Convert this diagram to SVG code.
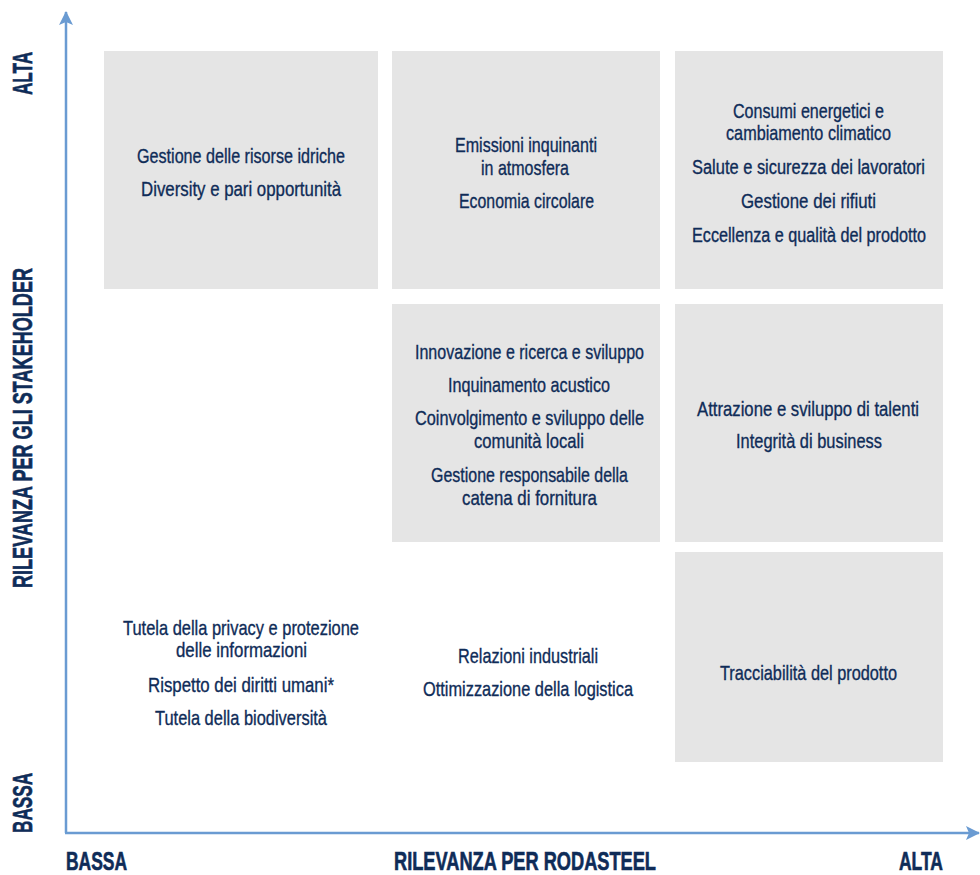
<svg xmlns="http://www.w3.org/2000/svg" width="980" height="875" viewBox="0 0 980 875">
<style>
.box{fill:#e5e5e5}
.t{font-family:"Liberation Sans",Arial,sans-serif;font-size:21px;fill:#0f2c58;stroke:#0f2c58;stroke-width:0.35;text-anchor:middle}
.s{font-size:19.5px}
.ax{font-family:"Liberation Sans",Arial,sans-serif;font-size:25px;font-weight:bold;fill:#0f2c58;stroke:#0f2c58;stroke-width:0.6;text-anchor:middle}
.axv{font-size:28px}
.axis{stroke:#6a9bd2;stroke-width:2.5;fill:none}
</style>
<defs>
<marker id="arr" viewBox="0 0 14 14" refX="13" refY="7" markerWidth="14" markerHeight="14" markerUnits="userSpaceOnUse" orient="auto">
<path d="M0,0 L14,7 L0,14 L3,7 Z" fill="#6a9bd2"/>
</marker>
</defs>
<g id="connectors">
<line class="axis" x1="66" y1="833" x2="66" y2="12" marker-end="url(#arr)"/>
<line class="axis" x1="65" y1="833" x2="979" y2="833" marker-end="url(#arr)"/>
</g>
<g id="axis-labels">
<text class="ax axv" transform="translate(32,73.5) rotate(-90)" textLength="43" lengthAdjust="spacingAndGlyphs">ALTA</text>
<text class="ax axv" transform="translate(32,428) rotate(-90)" textLength="320" lengthAdjust="spacingAndGlyphs">RILEVANZA PER GLI STAKEHOLDER</text>
<text class="ax axv" transform="translate(32,803) rotate(-90)" textLength="60" lengthAdjust="spacingAndGlyphs">BASSA</text>
<text class="ax" x="96.5" y="870" textLength="61" lengthAdjust="spacingAndGlyphs">BASSA</text>
<text class="ax" x="525" y="870" textLength="262" lengthAdjust="spacingAndGlyphs">RILEVANZA PER RODASTEEL</text>
<text class="ax" x="921" y="870" textLength="44" lengthAdjust="spacingAndGlyphs">ALTA</text>
</g>
<g id="node-1">
<rect class="box" x="104" y="51" width="274" height="238"/>
<text class="t" x="241" y="163" textLength="208" lengthAdjust="spacingAndGlyphs">Gestione delle risorse idriche</text>
<text class="t" x="241" y="196" textLength="200" lengthAdjust="spacingAndGlyphs">Diversity e pari opportunità</text>
</g>
<g id="node-2">
<rect class="box" x="392" y="51" width="268" height="238"/>
<text class="t" x="526" y="152" textLength="142" lengthAdjust="spacingAndGlyphs">Emissioni inquinanti</text>
<text class="t" x="525" y="175" textLength="88" lengthAdjust="spacingAndGlyphs">in atmosfera</text>
<text class="t" x="526.5" y="208" textLength="135" lengthAdjust="spacingAndGlyphs">Economia circolare</text>
</g>
<g id="node-3">
<rect class="box" x="675" y="51" width="268" height="238"/>
<text class="t" x="808.5" y="118" textLength="151" lengthAdjust="spacingAndGlyphs">Consumi energetici e</text>
<text class="t" x="808.5" y="140" textLength="165" lengthAdjust="spacingAndGlyphs">cambiamento climatico</text>
<text class="t s" x="808.5" y="174" textLength="233" lengthAdjust="spacingAndGlyphs">Salute e sicurezza dei lavoratori</text>
<text class="t" x="808.5" y="208" textLength="135" lengthAdjust="spacingAndGlyphs">Gestione dei rifiuti</text>
<text class="t s" x="809" y="242" textLength="234" lengthAdjust="spacingAndGlyphs">Eccellenza e qualità del prodotto</text>
</g>
<g id="node-4">
<rect class="box" x="392" y="304" width="268" height="238"/>
<text class="t" x="529.5" y="359" textLength="229" lengthAdjust="spacingAndGlyphs">Innovazione e ricerca e sviluppo</text>
<text class="t" x="529" y="392" textLength="162" lengthAdjust="spacingAndGlyphs">Inquinamento acustico</text>
<text class="t" x="529.5" y="425" textLength="229" lengthAdjust="spacingAndGlyphs">Coinvolgimento e sviluppo delle</text>
<text class="t" x="529" y="448" textLength="110" lengthAdjust="spacingAndGlyphs">comunità locali</text>
<text class="t" x="529.5" y="482" textLength="197" lengthAdjust="spacingAndGlyphs">Gestione responsabile della</text>
<text class="t" x="529.5" y="505" textLength="135" lengthAdjust="spacingAndGlyphs">catena di fornitura</text>
</g>
<g id="node-5">
<rect class="box" x="675" y="304" width="268" height="238"/>
<text class="t" x="808" y="416" textLength="222" lengthAdjust="spacingAndGlyphs">Attrazione e sviluppo di talenti</text>
<text class="t" x="809" y="448" textLength="146" lengthAdjust="spacingAndGlyphs">Integrità di business</text>
</g>
<g id="node-6">
<rect class="box" x="675" y="552" width="268" height="210"/>
<text class="t" x="808.5" y="680" textLength="177" lengthAdjust="spacingAndGlyphs">Tracciabilità del prodotto</text>
</g>
<g id="node-7">
<text class="t" x="241" y="635" textLength="236" lengthAdjust="spacingAndGlyphs">Tutela della privacy e protezione</text>
<text class="t" x="241.5" y="657" textLength="131" lengthAdjust="spacingAndGlyphs">delle informazioni</text>
<text class="t" x="241" y="692" textLength="186" lengthAdjust="spacingAndGlyphs">Rispetto dei diritti umani*</text>
<text class="t" x="241" y="725" textLength="172" lengthAdjust="spacingAndGlyphs">Tutela della biodiversità</text>
</g>
<g id="node-8">
<text class="t" x="528" y="663" textLength="140" lengthAdjust="spacingAndGlyphs">Relazioni industriali</text>
<text class="t" x="528" y="696" textLength="210" lengthAdjust="spacingAndGlyphs">Ottimizzazione della logistica</text>
</g>
</svg>
